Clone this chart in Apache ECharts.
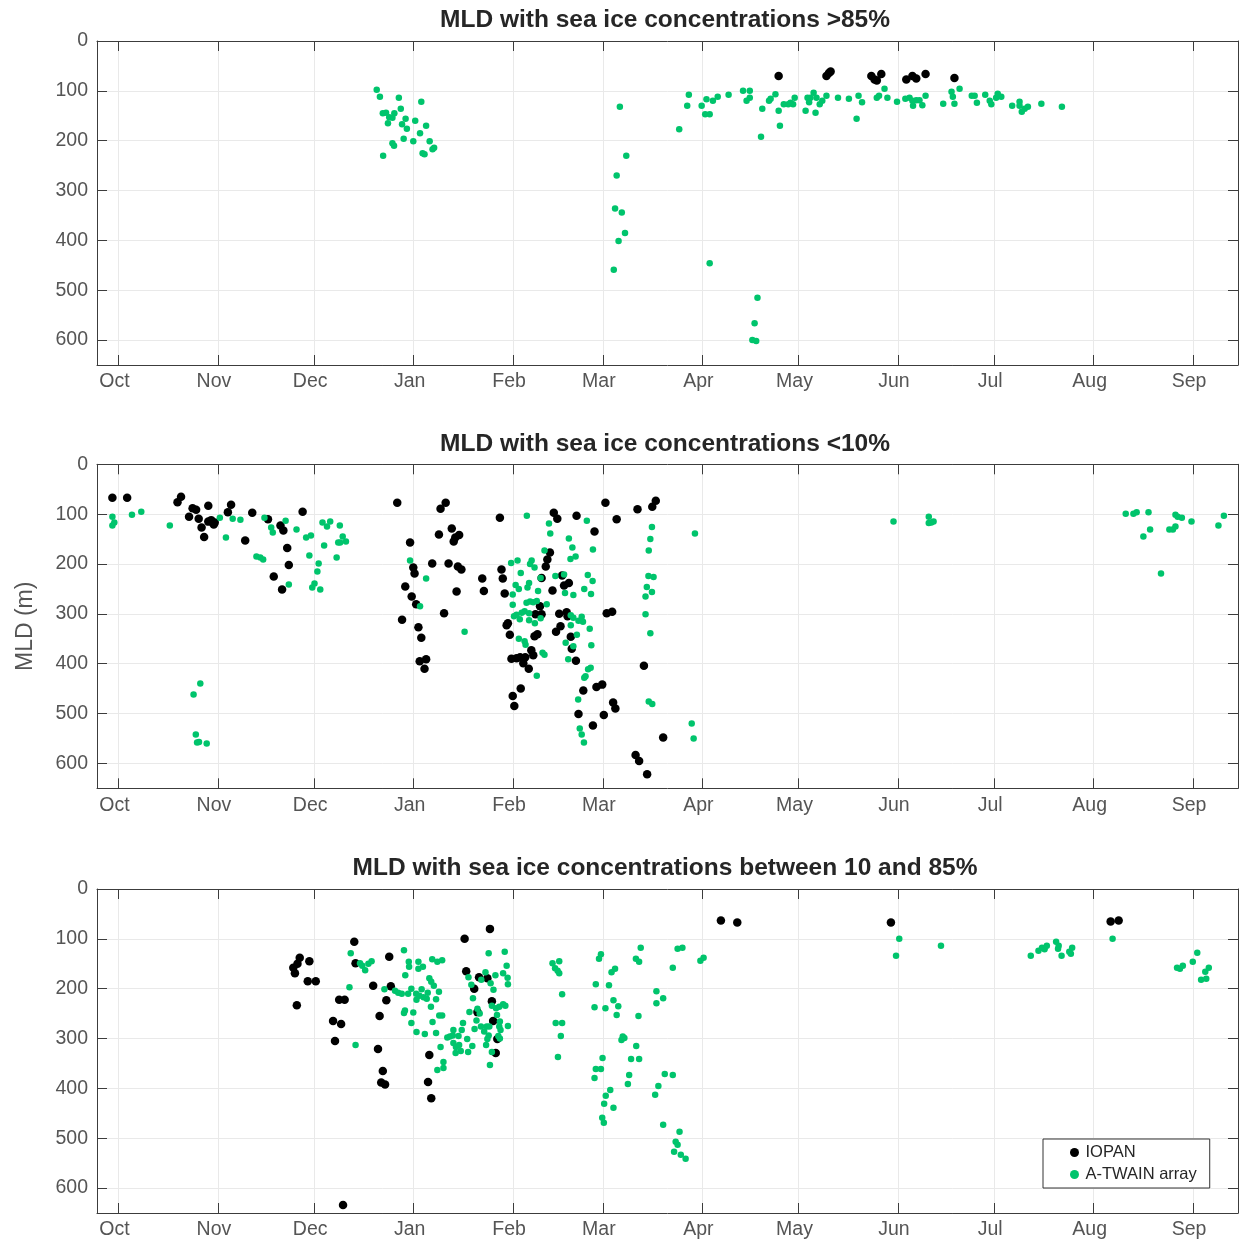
<!DOCTYPE html>
<html><head><meta charset="utf-8">
<script src="https://cdn.jsdelivr.net/npm/echarts@6/dist/echarts.min.js"></script>
<style>html,body{margin:0;padding:0;background:#fff}#c{width:1239px;height:1240px}</style>
</head><body><div id="c"></div>
<script>
// x = days since 1 October; y = MLD (m)
const monthStarts = [0,31,61,92,123,151,182,212,243,273,304,335];
const monthLabels = ['Oct','Nov','Dec','Jan','Feb','Mar','Apr','May','Jun','Jul','Aug','Sep'];
const depthTicks = [0,100,200,300,400,500,600];
const panelTitles = ['MLD with sea ice concentrations >85%','MLD with sea ice concentrations <10%','MLD with sea ice concentrations between 10 and 85%'];
const seriesNames = ['IOPAN','A-TWAIN array'];

const p1_iopan = [[205.8,70],[220.7,70],[221.5,64],[222.0,61],[234.7,70],[235.7,77],[236.4,79],[237.8,66],[245.6,77],[247.5,70],[248.7,75],[251.6,66],[260.6,74]];
const p1_atwain = [[80.5,98],[81.5,112],[87.4,114],[94.4,122],[88.0,136],[82.4,145],[83.4,144],[86.0,145],[84.4,153],[85.4,154],[89.5,156],[92.5,160],[84.0,165],[88.4,167],[89.9,176],[95.9,170],[94.0,185],[88.9,196],[91.9,201],[97.0,201],[85.4,205],[85.9,210],[82.5,230],[94.8,225],[95.4,227],[97.9,217],[98.4,214],
[156.3,132],[158.3,230],[155.3,270],[154.8,336],[156.9,344],[157.9,385],[155.9,401],[154.4,459],
[184.3,446],[199.2,515],[198.3,566],[197.6,600],[198.8,602],
[174.8,177],[177.3,130],[177.8,108],[181.8,130],[182.9,147],[184.3,147],[183.3,117],[185.3,120],[186.8,112],[190.2,108],[194.7,100],[196.8,100],[195.8,120],[196.8,114],[200.3,192],[200.7,136],[202.8,120],[203.3,116],[204.8,107],[205.8,140],[206.2,170],[207.4,127],[208.8,127],[209.5,124],[210.3,127],[210.8,114],[214.2,140],[214.8,114],[215.3,123],[215.7,114],[216.7,104],[217.3,144],[217.6,114],[218.6,127],[219.4,120],[220.7,110],[224.3,114],[227.7,116],[230.1,156],[230.7,110],[231.8,123],[236.4,114],[237.1,110],[238.8,96],[239.7,114],[242.7,122],[245.3,116],[246.6,114],[247.5,120],[247.7,130],[248.7,119],[249.7,119],[250.6,129],[251.6,110],[257.1,126],[259.7,102],[260.1,112],[260.6,126],[262.2,96],[266.0,110],[266.9,110],[267.6,124],[270.2,108],[271.6,120],[272.1,127],[273.6,114],[274.1,106],[275.2,112],[278.6,130],[280.9,122],[280.9,130],[281.6,142],[282.5,136],[283.5,132],[287.7,126],[294.1,132]];

const p2_iopan = [[-1.9,67],[2.7,67],[18.4,76],[19.5,65],[23.1,88],[24.2,91],[28.0,83],[22.0,105],[25.0,109],[25.9,127],[26.7,146],[28.0,115],[28.9,112],[29.7,121],[30.0,117],[34.1,96],[35.1,81],[39.5,153],[41.7,97],[46.6,110],[50.5,123],[51.4,133],[52.6,168],[53.1,202],[48.4,225],[51.0,251],[57.4,95],
[86.9,77],[90.9,157],[91.9,207],[92.3,219],[89.4,245],[91.4,265],[92.8,281],[88.4,312],[93.5,327],[94.4,348],[93.9,395],[95.9,391],[95.4,410],[100.4,89],[102.0,77],[99.9,141],[103.9,129],[106.2,142],[105.0,147],[104.5,155],[97.8,199],[102.9,199],[105.8,205],[106.9,211],[105.4,255],[101.5,299],[118.9,107],[113.4,229],[113.9,254],[119.4,211],[119.8,229],[120.4,259],[121.0,323],[121.4,319],[122.0,342],[122.5,390],[124.1,389],[125.2,387],[126.2,399],[126.8,387],[127.9,410],[128.7,373],[129.3,383],[129.7,345],[130.6,341],[122.9,465],[125.4,450],[123.4,485],[131.4,285],[130.0,301],[131.9,301],[131.9,228],[133.2,205],[133.7,191],
[134.5,177],[135.7,97],[136.8,109],[142.8,103],[148.4,135],[151.8,77],[155.3,110],[161.8,90],[166.4,85],[167.5,73],[138.3,223],[138.9,243],[140.4,238],[135.3,253],[137.4,300],[139.7,297],[140.0,305],[137.8,325],[136.4,336],[141.0,346],[141.3,370],[142.6,394],[152.2,299],[153.9,296],[163.8,404],[144.9,454],[149.0,447],[150.8,442],[154.2,478],[154.9,490],[143.4,501],[151.3,503],[147.9,524],[169.8,548],[161.2,583],[162.3,595],[164.8,622]];
const p2_atwain = [[-1.9,105],[-1.3,117],[-1.9,123],[4.2,101],[7.1,95],[16.0,123],[31.6,107],[33.5,147],[35.6,109],[38.0,111],[45.5,107],[47.6,127],[48.1,137],[43.0,185],[44.2,187],[45.1,191],[52.1,113],[55.5,131],[53.1,241],[58.5,147],[60.0,143],[59.5,183],[62.4,199],[62.0,215],[61.1,239],[60.4,247],[62.9,251],[63.6,117],[66.0,115],[65.0,125],[69.0,123],[64.1,163],[68.0,187],[69.9,145],[68.5,157],[69.1,157],[70.9,155],[23.4,462],[25.5,440],[24.1,542],[24.5,558],[25.1,557],[27.5,560],
[90.9,193],[95.9,229],[94.0,285],[107.9,336],[127.3,103],[134.2,119],[134.6,139],[132.8,173],[122.4,198],[124.4,193],[125.4,218],[128.8,193],[128.3,200],[129.7,207],[131.6,228],[123.8,242],[124.8,250],[127.5,247],[128.0,238],[130.8,254],[122.9,261],[122.9,282],[127.2,278],[128.3,275],[129.3,277],[130.4,274],[133.5,281],[123.3,305],[124.1,302],[125.7,298],[126.6,295],[125.1,311],[128.0,299],[128.0,313],[129.8,319],[131.6,309],[124.8,350],[126.6,355],[126.9,362],[132.2,378],[132.8,382],[130.4,424],
[140.4,149],[141.5,167],[140.9,190],[142.5,185],[146.0,113],[147.9,171],[136.2,224],[138.9,221],[139.2,258],[141.8,262],[146.3,222],[147.8,234],[145.2,250],[147.3,260],[141.0,303],[141.8,308],[144.4,306],[143.4,314],[141.0,323],[144.8,316],[146.9,330],[142.9,342],[139.4,358],[141.8,365],[147.4,363],[140.2,391],[146.4,411],[147.2,408],[145.6,425],[145.2,428],[143.3,472],[143.8,530],[144.4,542],[145.1,558],[166.3,126],[165.8,150],[165.3,173],[165.2,224],[166.8,226],[164.7,246],[166.3,256],[164.3,265],[164.3,301],[165.8,339],[165.3,476],[166.4,481],[179.7,139],[178.7,520],[179.3,550],
[241.6,115],[252.6,105],[252.6,118],[253.4,117],[254.1,115],[314.0,99],[316.4,99],[317.4,96],[321.1,96],[319.5,145],[321.6,131],[325.0,219],[327.6,131],[328.7,131],[329.5,125],[329.5,101],[330.2,105],[331.5,107],[334.5,115],[342.9,123],[344.6,103]];

const p3_iopan = [[56.5,138],[55.8,150],[54.5,158],[55.0,169],[59.5,145],[59.0,185],[61.5,185],[55.6,233],[73.5,106],[73.9,149],[84.4,136],[68.8,222],[70.5,222],[66.9,265],[69.4,271],[67.5,305],[79.4,194],[84.9,195],[83.5,223],[81.4,255],[80.9,321],[82.4,365],[81.9,388],[83.1,392],[70.0,634],
[115.8,80],[107.9,100],[108.4,165],[112.4,177],[115.0,179],[110.9,200],[116.4,225],[116.8,265],[118.1,301],[117.6,329],[111.9,247],[96.9,333],[96.5,387],[97.5,420],
[187.8,63],[192.9,67],[240.8,67],[309.3,65],[311.8,63]];
const p3_atwain = [[72.4,129],[75.3,149],[76.0,154],[76.9,163],[77.9,150],[78.9,145],[72.0,197],[73.9,313],[82.9,201],[89.0,123],[90.5,146],[90.6,156],[89.4,173],[86.2,204],[87.2,208],[88.3,210],[90.3,210],[89.3,244],[89.0,249],[91.3,269],[91.3,200],
[93.5,146],[94.9,156],[93.5,160],[97.8,141],[99.4,146],[100.9,143],[96.9,179],[97.5,186],[98.3,194],[94.5,201],[96.4,208],[99.9,206],[92.8,210],[93.8,214],[95.1,217],[96.1,220],[99.0,221],[92.9,222],[97.4,236],[91.9,248],[100.0,254],[100.9,254],[97.9,267],[92.9,287],[95.5,291],[99.0,289],[100.4,317],[101.3,347],[99.4,363],[101.3,359],[102.5,298],[103.3,296],[104.2,294],[104.4,283],[106.0,295],[107.4,269],[107.0,283],[104.4,309],[105.2,317],[106.2,313],[105.1,329],[106.7,325],[108.7,301],[109.0,327],[110.3,315],[109.4,247],[110.5,219],[110.0,192],[109.1,177],[111.0,281],[111.6,264],[113.0,276],[114.0,286],[114.8,276],[111.9,240],[112.6,250],[115.6,276],[115.0,301],[114.6,313],[115.4,294],[116.4,327],[115.8,353],[115.4,129],[114.4,167],[113.1,182],[116.0,189],[116.9,202],[117.5,173],[116.4,234],[117.7,239],[118.7,236],[119.9,231],[120.6,234],[118.0,253],[118.9,266],[118.7,276],[119.1,283],[121.4,275],[118.4,295],[118.9,300],[120.4,126],[121.0,154],[119.9,169],[121.3,178],[121.4,191],
[135.3,149],[137.4,145],[136.1,159],[136.9,164],[137.4,169],[138.3,211],[136.3,269],[138.3,269],[137.9,295],[137.0,337],[150.4,131],[149.8,140],[148.8,191],[152.9,193],[148.4,237],[151.8,239],[154.3,223],[155.8,235],[155.3,253],[153.7,167],[154.8,160],[150.9,339],[148.8,361],[150.4,361],[148.4,379],[153.3,403],[151.9,415],[151.4,431],[154.3,439],[150.8,459],[151.3,469],[156.8,303],[157.7,299],[157.2,296],[161.4,315],[159.8,341],[162.3,341],[159.2,373],[158.8,391],[162.8,118],[161.3,140],[162.3,146],[162.1,255],[167.7,205],[169.8,219],[167.7,229],[172.8,158],[174.3,120],[175.8,118],[181.4,144],[182.4,138],[170.3,371],[172.8,373],[168.3,395],[167.3,413],[169.8,473],[174.9,487],[173.7,507],[174.3,513],[173.2,527],[175.3,533],[176.8,541],
[243.4,100],[242.4,134],[256.4,114],[284.4,134],[286.8,124],[287.9,118],[288.7,121],[289.4,114],[292.3,106],[293.1,114],[292.9,120],[294.0,134],[296.4,126],[297.3,118],[296.9,130],[309.9,100],[330.0,158],[330.9,160],[331.8,154],[334.9,146],[336.3,128],[338.8,166],[339.9,158],[337.5,182],[339.1,180]];

const panels = [[p1_iopan,p1_atwain],[p2_iopan,p2_atwain],[p3_iopan,p3_atwain]];

const X_MIN = -6.7, X_MAX = 349, Y_MIN = 0, Y_MAX = 650;
const gridTops = [41, 464.3, 889];
const AX = '#3c3c3c', LBL = '#555', GRID = '#e9e9e9';
const FONT = '"Liberation Sans", Arial, Helvetica, sans-serif';
const GREEN = '#00c46c';

const grids = [], xAxes = [], yAxes = [], series = [], titles = [];
panels.forEach((p, i) => {
  grids.push({left: 97, width: 1141, top: gridTops[i], height: 324, containLabel: false});
  titles.push({text: panelTitles[i], left: 665, top: gridTops[i] - 33, textAlign: 'center', padding: 0,
    textStyle: {fontFamily: FONT, fontSize: 24.5, fontWeight: 'bold', color: '#262626'}});
  const xBase = {type: 'value', gridIndex: i, min: X_MIN, max: X_MAX,
    axisLine: {show: true, onZero: false, lineStyle: {color: AX, width: 1}},
    axisTick: {show: true, inside: true, length: 10, customValues: monthStarts, lineStyle: {color: AX}}};
  xAxes.push(Object.assign({}, xBase, {position: 'bottom',
    axisLabel: {customValues: monthStarts, formatter: v => monthLabels[monthStarts.indexOf(v)], fontFamily: FONT, fontSize: 19.5, color: LBL, margin: 7, padding: [0, 8, 0, 0]},
    splitLine: {show: true, lineStyle: {color: GRID, width: 1}}}));
  xAxes.push(Object.assign({}, xBase, {position: 'top', axisLabel: {show: false}, splitLine: {show: false}}));
  const yBase = {type: 'value', gridIndex: i, min: Y_MIN, max: Y_MAX, inverse: true,
    axisLine: {show: true, onZero: false, lineStyle: {color: AX, width: 1}},
    axisTick: {show: true, inside: true, length: 10, customValues: depthTicks, lineStyle: {color: AX}}};
  const yLeft = Object.assign({}, yBase, {position: 'left',
    axisLabel: {customValues: depthTicks, fontFamily: FONT, fontSize: 19.5, color: LBL, margin: 9},
    splitLine: {show: true, lineStyle: {color: GRID, width: 1}}});
  if (i === 1) {
    Object.assign(yLeft, {name: 'MLD (m)', nameLocation: 'middle', nameGap: 60, nameRotate: 90,
      nameTextStyle: {fontFamily: FONT, fontSize: 23, color: LBL}});
  }
  yAxes.push(yLeft);
  yAxes.push(Object.assign({}, yBase, {position: 'right', axisLabel: {show: false}, splitLine: {show: false}}));
  series.push({name: seriesNames[0], type: 'scatter', xAxisIndex: 2*i, yAxisIndex: 2*i, data: p[0],
    symbol: 'circle', symbolSize: 8.5, itemStyle: {color: '#000', opacity: 1}, silent: true, z: 2});
  series.push({name: seriesNames[1], type: 'scatter', xAxisIndex: 2*i, yAxisIndex: 2*i, data: p[1],
    symbol: 'circle', symbolSize: 6.5, itemStyle: {color: GREEN, opacity: 1}, silent: true, z: 3});
});

const option = {
  animation: false,
  backgroundColor: '#fff',
  title: titles,
  grid: grids,
  xAxis: xAxes,
  yAxis: yAxes,
  series: series,
  legend: {data: seriesNames, orient: 'vertical', left: 1043, top: 1139, icon: 'circle',
    itemWidth: 12, itemHeight: 9, itemGap: 5, padding: [5, 13, 5, 27], selectedMode: false,
    borderColor: '#333', borderWidth: 1, backgroundColor: '#fff', borderRadius: 0,
    textStyle: {fontFamily: FONT, fontSize: 16.5, color: '#262626', lineHeight: 17}}
};
const chart = echarts.init(document.getElementById('c'), null, {renderer: 'canvas'});
chart.setOption(option);
</script></body></html>
